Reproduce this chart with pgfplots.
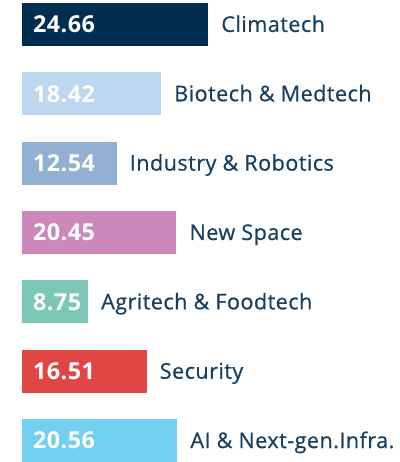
\documentclass[border=0pt]{standalone}
\usepackage{pgfplots}
\pgfplotsset{compat=1.18}
\usepackage{pgfplotstable}
\usepackage{fontspec}
\setmainfont{Open Sans}
\newfontfamily\labfont[FakeBold=0.6,LetterSpace=2]{Open Sans}
\newfontfamily\valfont[LetterSpace=2]{Open Sans}
\definecolor{cA}{HTML}{002E50}
\definecolor{cB}{HTML}{BDD7F0}
\definecolor{cC}{HTML}{92B0D1}
\definecolor{cD}{HTML}{CC88BA}
\definecolor{cE}{HTML}{7CC8B6}
\definecolor{cF}{HTML}{E04644}
\definecolor{cG}{HTML}{73D0F0}
\definecolor{labcol}{HTML}{173F5F}
\pgfplotstableread{
y val
0 24.66
1 18.42
2 12.54
3 20.45
4 8.75
5 16.51
6 20.56
}\values
\pgfplotsset{mybar/.style={xbar, bar width=43bp, bar shift=0pt, draw=none, fill=#1,
 nodes near coords, point meta=explicit symbolic,
 every node near coord/.append style={anchor=base west, xshift=13bp, yshift=-7.5bp, text=labcol, font=\labfont\fontsize{21.8}{24}\selectfont, inner sep=0pt}}}
\begin{document}
\begin{tikzpicture}
\begin{axis}[
 scale only axis, width=401bp, height=462bp,
 xmin=-2.902, xmax=50.0, ymin=-0.352, ymax=6.286, y dir=reverse,
 axis line style={draw=none}, xtick=\empty, ytick=\empty,
 clip=false,
]
\addplot[mybar=cA] coordinates {(24.66,0) [Climatech]};
\addplot[mybar=cB] coordinates {(18.42,1) [Biotech \& Medtech]};
\addplot[mybar=cC] coordinates {(12.54,2) [Industry \& Robotics]};
\addplot[mybar=cD] coordinates {(20.45,3) [New Space]};
\addplot[mybar=cE] coordinates {(8.75,4) [Agritech \& Foodtech]};
\addplot[mybar=cF] coordinates {(16.51,5) [Security]};
\addplot[mybar=cG] coordinates {(20.56,6) [AI \& Next-gen.Infra.]};
\addplot[draw=none, mark=none, nodes near coords, point meta=explicit symbolic,
 every node near coord/.style={anchor=base west, xshift=11bp, yshift=-8.3bp, text=white, font=\valfont\fontsize{23.5}{26}\selectfont\bfseries, inner sep=0pt}]
 table[x expr=0, y=y, meta=val] {\values};
\end{axis}
\end{tikzpicture}
\end{document}
